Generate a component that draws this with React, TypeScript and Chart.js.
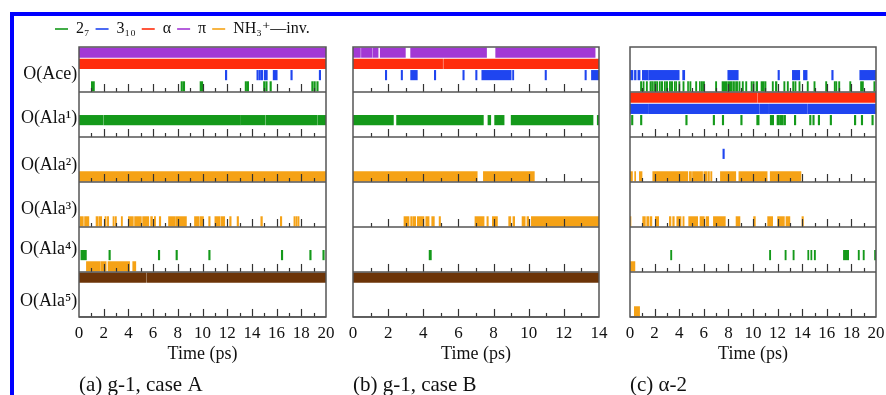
import { useEffect, useRef } from 'react';
import { Chart, registerables } from 'chart.js';

Chart.register(...registerables);

const SERIF = '"Liberation Serif", "DejaVu Serif", "Times New Roman", serif';
const TEXT = '#111111';
const FRAME = '#555555';
const TICK = '#333333';

// series kinds (legend order)
const KINDS = ['s27', 's310', 'alpha', 'pi', 'inv', 'brown'];
const KIND_LABELS = ['2₇', '3₁₀', 'α', 'π', 'NH₃⁺—inv.', ''];
const KIND_COLORS = ['#14991a', '#1f45f0', '#ff2c0c', '#a238d4', '#f5a216', '#6c3408'];

// rows (y categories) and lanes inside the rows
const ROW_LABELS = ['O(Ace)', 'O(Ala¹)', 'O(Ala²)', 'O(Ala³)', 'O(Ala⁴)', 'O(Ala⁵)'];
const ROW_LABEL_POS = [1.9, 5.8, 10.0, 13.9, 17.5, 22.1];
const ROW_BOUNDS = [3.5, 7.5, 11.5, 15.5, 19.5, 23.5];
const LANE_MIN = -0.5;
const LANE_MAX = 23.5;

// ---------- panel (a) g-1, case A : segments [start, end] in ps ----------
const A_ACE_PI = [[0, 20]];
const A_ACE_ALPHA = [[0, 20]];
const A_ACE_310 = [[11.85, 11.97], [14.4, 14.52], [14.58, 14.7], [14.76, 14.88], [15.0, 15.25], [15.72, 16.05], [17.15, 17.27], [19.45, 19.57]];
const A_ACE_27 = [[1.0, 1.25], [8.26, 8.38], [8.44, 8.56], [9.8, 10.02], [13.45, 13.57], [13.62, 13.74], [14.94, 15.06], [15.12, 15.24], [15.46, 15.58], [18.84, 18.96], [19.02, 19.14], [19.25, 19.37]];
const A_ALA1_27 = [[0, 1.95], [2.02, 13.08], [13.13, 15.08], [15.16, 19.3], [19.38, 20]];
const A_ALA2_INV = [[0, 20]];
const A_ALA3_INV = [[0.1, 0.35], [0.45, 0.8], [1.38, 1.55], [1.62, 1.84], [2.1, 2.2], [2.3, 2.4], [2.75, 2.85], [2.93, 3.03], [3.42, 3.52], [4.0, 4.4], [4.5, 5.05], [5.15, 5.65], [5.8, 5.95], [6.1, 6.2], [6.5, 6.62], [7.25, 7.8], [7.85, 8.7], [9.35, 9.7], [9.78, 10.08], [10.5, 10.62], [11.0, 11.42], [11.5, 11.8], [12.2, 12.32], [12.8, 12.92], [14.72, 14.85], [16.3, 16.42], [17.4, 17.5], [17.56, 17.66], [17.72, 17.82]];
const A_ALA4_27 = [[0.15, 0.6], [2.42, 2.54], [6.42, 6.54], [7.85, 7.97], [10.5, 10.62], [16.38, 16.5], [18.68, 18.8], [19.74, 19.86]];
const A_ALA4_INV = [[0.6, 1.7], [1.76, 2.2], [2.35, 4.1], [4.35, 4.6]];
const A_ALA5_BROWN = [[0, 5.45], [5.53, 20]];

// ---------- panel (b) g-1, case B ----------
const B_ACE_PI = [[0, 0.42], [0.48, 1.08], [1.13, 1.43], [1.55, 2.98], [3.28, 7.6], [8.12, 13.78]];
const B_ACE_ALPHA = [[0, 5.1], [5.16, 14]];
const B_ACE_310 = [[1.84, 1.92], [2.74, 2.82], [3.28, 3.66], [4.63, 4.71], [6.25, 6.33], [6.98, 7.06], [7.33, 9.0], [9.08, 9.15], [10.93, 11.01], [13.2, 13.28], [13.57, 14]];
const B_ALA1_27 = [[0, 2.3], [2.48, 7.42], [7.68, 7.84], [8.06, 8.6], [9.0, 13.66], [13.9, 14]];
const B_ALA2_INV = [[0, 7.07], [7.42, 10.32]];
const B_ALA3_INV = [[2.9, 3.19], [3.28, 3.38], [3.43, 3.57], [3.66, 4.04], [4.14, 4.33], [4.48, 4.63], [4.9, 4.98], [6.94, 7.46], [7.62, 7.7], [7.93, 8.22], [8.86, 8.98], [9.1, 9.2], [9.62, 9.8], [9.9, 10.0], [10.15, 14]];
const B_ALA4_27 = [[4.33, 4.46]];
const B_ALA5_BROWN = [[0, 14]];

// ---------- panel (c) alpha-2 ----------
const C_ACE_310 = [[0, 0.24], [0.36, 0.5], [0.64, 0.82], [1.0, 1.47], [1.52, 4.0], [4.28, 4.45], [7.95, 8.8], [12.03, 12.15], [13.2, 13.8], [14.1, 14.4], [16.4, 16.52], [18.68, 20]];
const C_ACE_27 = [[0.85, 0.95], [1.05, 1.15], [1.32, 1.42], [1.62, 1.72], [1.76, 1.84], [1.92, 2.0], [2.06, 2.14], [2.18, 2.26], [2.38, 2.46], [2.52, 2.66], [2.79, 2.87], [2.92, 3.06], [3.2, 3.3], [3.36, 3.47], [3.6, 3.68], [3.72, 3.8], [3.96, 4.06], [4.3, 4.4], [4.68, 4.76], [4.86, 4.96], [5.33, 5.43], [5.64, 5.72], [5.8, 5.9], [5.96, 6.06], [6.95, 7.05], [7.48, 7.9], [7.96, 8.3], [8.36, 8.5], [8.58, 8.75], [8.85, 8.95], [9.12, 9.22], [9.4, 9.5], [9.84, 9.94], [10.0, 10.1], [10.24, 10.38], [10.65, 10.9], [10.95, 11.06], [11.56, 11.66], [11.82, 11.95], [12.5, 12.6], [12.78, 12.88], [13.22, 13.32], [13.4, 13.5], [13.73, 13.83], [14.4, 14.5], [14.95, 15.05], [15.9, 16.0], [16.6, 16.7], [16.74, 16.82], [16.96, 17.06], [17.86, 17.96], [18.74, 18.84], [18.88, 18.98], [19.82, 19.92]];
const C_ALA1_ALPHA = [[0, 10.33], [10.4, 20]];
const C_ALA1_310 = [[0, 1.44], [1.5, 10.48], [10.54, 11.27], [11.33, 14.42], [14.48, 20]];
const C_ALA1_27 = [[0.12, 0.24], [0.85, 0.97], [4.53, 4.65], [6.76, 6.88], [7.5, 7.62], [9.0, 9.12], [10.3, 10.5], [11.4, 11.52], [11.56, 11.68], [11.95, 12.1], [12.15, 12.45], [12.5, 12.65], [13.36, 13.48], [14.6, 14.72], [14.86, 14.98], [15.3, 15.42], [16.27, 16.39], [18.24, 18.36], [18.8, 18.92], [19.66, 19.78]];
const C_ALA2_310 = [[7.55, 7.67]];
const C_ALA2_INV = [[0, 0.2], [0.38, 0.46], [0.76, 0.98], [1.85, 4.7], [4.82, 5.0], [5.08, 5.9], [6.0, 6.28], [6.36, 6.46], [6.56, 6.66], [7.35, 8.6], [8.85, 11.15], [11.4, 13.9]];
const C_ALA3_INV = [[0, 0.08], [1.03, 1.25], [1.36, 1.52], [1.62, 1.78], [2.06, 2.33], [3.2, 3.33], [3.47, 3.6], [3.8, 4.15], [4.3, 4.4], [4.77, 5.5], [5.69, 6.04], [6.18, 6.4], [6.78, 7.75], [8.62, 8.94], [10.05, 10.19], [11.19, 11.6], [12.0, 12.55], [12.68, 13.0], [13.98, 14.1]];
const C_ALA4_27 = [[3.3, 3.4], [11.34, 11.44], [12.6, 12.7], [13.25, 13.35], [14.45, 14.54], [14.7, 14.79], [14.98, 15.08], [17.35, 17.78], [18.55, 18.65], [18.95, 19.05], [19.88, 20]];
const C_ALA4_INV = [[0, 0.4]];
const C_ALA5_INV = [[0.35, 0.78]];

const PANELS: any[] = [
  {
    caption: '(a) g-1, case A', xMax: 20, left: 0, width: 343, main: true,
    tracks: [
      { kind: 'pi', lane: 0, segs: A_ACE_PI },
      { kind: 'alpha', lane: 1, segs: A_ACE_ALPHA },
      { kind: 's310', lane: 2, segs: A_ACE_310 },
      { kind: 's27', lane: 3, segs: A_ACE_27 },
      { kind: 's27', lane: 6, segs: A_ALA1_27 },
      { kind: 'inv', lane: 11, segs: A_ALA2_INV },
      { kind: 'inv', lane: 15, segs: A_ALA3_INV },
      { kind: 's27', lane: 18, segs: A_ALA4_27 },
      { kind: 'inv', lane: 19, segs: A_ALA4_INV },
      { kind: 'brown', lane: 20, segs: A_ALA5_BROWN },
    ],
  },
  {
    caption: '(b) g-1, case B', xMax: 14, left: 340, width: 276, main: false,
    tracks: [
      { kind: 'pi', lane: 0, segs: B_ACE_PI },
      { kind: 'alpha', lane: 1, segs: B_ACE_ALPHA },
      { kind: 's310', lane: 2, segs: B_ACE_310 },
      { kind: 's27', lane: 6, segs: B_ALA1_27 },
      { kind: 'inv', lane: 11, segs: B_ALA2_INV },
      { kind: 'inv', lane: 15, segs: B_ALA3_INV },
      { kind: 's27', lane: 18, segs: B_ALA4_27 },
      { kind: 'brown', lane: 20, segs: B_ALA5_BROWN },
    ],
  },
  {
    caption: '(c) α-2', xMax: 20, left: 617, width: 276, main: false,
    tracks: [
      { kind: 's310', lane: 2, segs: C_ACE_310 },
      { kind: 's27', lane: 3, segs: C_ACE_27 },
      { kind: 'alpha', lane: 4, segs: C_ALA1_ALPHA },
      { kind: 's310', lane: 5, segs: C_ALA1_310 },
      { kind: 's27', lane: 6, segs: C_ALA1_27 },
      { kind: 's310', lane: 9, segs: C_ALA2_310 },
      { kind: 'inv', lane: 11, segs: C_ALA2_INV },
      { kind: 'inv', lane: 15, segs: C_ALA3_INV },
      { kind: 's27', lane: 18, segs: C_ALA4_27 },
      { kind: 'inv', lane: 19, segs: C_ALA4_INV },
      { kind: 'inv', lane: 23, segs: C_ALA5_INV },
    ],
  },
];

const MINOR_STEP = 1;

const lanePlugin = {
  id: 'laneGrid',
  afterDatasetsDraw(chart: any) {
    const { ctx, chartArea: ca, scales } = chart;
    const xs = scales.x;
    const ys = scales.y;
    ctx.save();
    ctx.strokeStyle = TICK;
    ctx.lineWidth = 1.2;
    for (const b of ROW_BOUNDS) {
      const py = ys.getPixelForValue(b);
      for (let t = MINOR_STEP; t < xs.max; t += MINOR_STEP) {
        const px = Math.round(xs.getPixelForValue(t)) + 0.5;
        const len = t % 2 === 0 ? 8 : 4;
        ctx.beginPath();
        ctx.moveTo(px, py);
        ctx.lineTo(px, py - len);
        ctx.stroke();
      }
    }
    ctx.strokeStyle = FRAME;
    ctx.lineWidth = 1.5;
    for (const b of ROW_BOUNDS) {
      const py = ys.getPixelForValue(b);
      ctx.beginPath();
      ctx.moveTo(ca.left, py);
      ctx.lineTo(ca.right, py);
      ctx.stroke();
    }
    ctx.strokeRect(ca.left, ca.top, ca.right - ca.left, ca.bottom - ca.top);
    ctx.restore();
  },
};

function Panel({ p }: { p: any }) {
  const ref = useRef<HTMLCanvasElement>(null);
  useEffect(() => {
    const canvas = ref.current;
    if (!canvas) return;
    const datasets = KINDS.map((kind, k) => ({
      label: KIND_LABELS[k],
      data: p.tracks
        .filter((t: any) => t.kind === kind)
        .flatMap((t: any) => t.segs.map((s: number[]) => ({ x: [s[0], s[1]], y: t.lane }))),
      backgroundColor: KIND_COLORS[k],
      borderWidth: 0,
      barThickness: 9.5,
      grouped: false,
      xAxisID: 'x',
      yAxisID: 'y',
    }));
    const chart = new Chart(canvas, {
      type: 'bar',
      data: { datasets } as any,
      options: {
        indexAxis: 'y',
        responsive: false,
        maintainAspectRatio: false,
        animation: false,
        events: [],
        font: { family: SERIF },
        layout: {
          padding: p.main
            ? { left: 49, right: 17, top: 15, bottom: 0 }
            : { left: 13, right: 17, top: 47, bottom: 0 },
        },
        plugins: {
          tooltip: { enabled: false },
          legend: {
            display: p.main,
            position: 'top',
            align: 'start',
            labels: {
              usePointStyle: true,
              pointStyleWidth: 13,
              padding: 6,
              color: TEXT,
              font: { family: SERIF, size: 16 },
              generateLabels: (c: any) =>
                c.data.datasets
                  .map((ds: any, i: number) => ({
                    text: ds.label,
                    fillStyle: ds.backgroundColor,
                    strokeStyle: ds.backgroundColor,
                    lineWidth: 1.6,
                    pointStyle: 'line',
                    hidden: false,
                    datasetIndex: i,
                    fontColor: TEXT,
                  }))
                  .filter((it: any) => it.text),
            },
          },
        },
        scales: {
          x: {
            type: 'linear',
            position: 'bottom',
            weight: 0,
            offset: false,
            min: 0,
            max: p.xMax,
            grid: { display: false, drawTicks: false },
            border: { display: false },
            ticks: {
              stepSize: 2,
              padding: 8,
              maxRotation: 0,
              autoSkip: false,
              color: TEXT,
              font: { family: SERIF, size: 17, lineHeight: 1 },
            },
            title: {
              display: true,
              text: 'Time (ps)',
              color: TEXT,
              font: { family: SERIF, size: 18, lineHeight: 0.48 },
              padding: { top: 0, bottom: 0 },
            },
          },
          cap: {
            type: 'linear',
            position: 'bottom',
            weight: 1,
            min: 0,
            max: p.xMax,
            grid: { display: false, drawTicks: false },
            border: { display: false },
            ticks: { display: false },
            title: {
              display: true,
              text: p.caption,
              align: 'start',
              color: TEXT,
              font: { family: SERIF, size: 21, lineHeight: 0.9 },
              padding: { top: 17.5, bottom: 0 },
            },
          },
          y: {
            type: 'linear',
            display: p.main,
            offset: false,
            min: LANE_MIN,
            max: LANE_MAX,
            reverse: true,
            grid: { display: false, drawTicks: false },
            border: { display: false },
            afterBuildTicks: (s: any) => {
              s.ticks = ROW_LABEL_POS.map((v) => ({ value: v }));
            },
            afterFit: (s: any) => {
              s.width = p.main ? 30 : 0;
            },
            ticks: {
              autoSkip: false,
              mirror: true,
              crossAlign: 'far',
              padding: -59,
              color: TEXT,
              font: { family: SERIF, size: 18 },
              callback: (_v: any, i: number) => ROW_LABELS[i],
            },
          },
        },
      } as any,
      plugins: [lanePlugin],
    });
    return () => chart.destroy();
  }, [p]);
  return (
    <canvas
      ref={ref}
      width={p.width}
      height={395}
      style={{ position: 'absolute', left: p.left, top: 0, width: p.width, height: 395 }}
    />
  );
}

export default function App() {
  return (
    <div style={{ position: 'absolute', left: 0, top: 0, width: 886, height: 395, background: '#ffffff', overflow: 'hidden' }}>
      {PANELS.map((p, i) => (
        <Panel key={i} p={p} />
      ))}
      <div
        style={{
          position: 'absolute',
          left: 10,
          top: 12,
          width: 876,
          height: 383,
          boxSizing: 'border-box',
          borderTop: '4.5px solid #0000ff',
          borderLeft: '4.5px solid #0000ff',
          pointerEvents: 'none',
        }}
      />
    </div>
  );
}
